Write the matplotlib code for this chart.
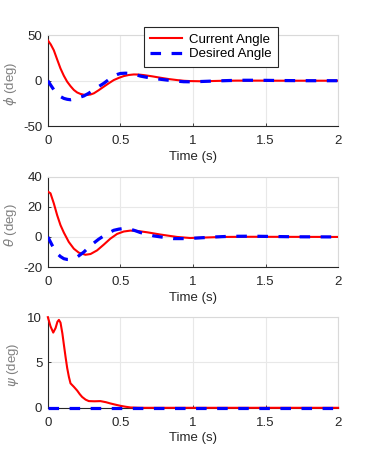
import matplotlib.pyplot as plt

plt.rcParams['font.family'] = ['Liberation Sans', 'DejaVu Sans']
plt.rcParams['mathtext.fontset'] = 'dejavusans'
plt.rcParams['axes.unicode_minus'] = False

# roll angle phi (deg)
t_phi = [0, 0.02, 0.041, 0.065, 0.087, 0.11, 0.133, 0.156, 0.179, 0.202, 0.225, 0.248, 0.27, 0.294,
         0.317, 0.35, 0.385, 0.42, 0.454, 0.49, 0.523, 0.557, 0.592, 0.626, 0.66, 0.72, 0.775, 0.83,
         0.89, 0.94, 0.98, 1.05, 1.12, 1.2, 1.3, 1.45, 1.6, 1.8, 2.0]
phi_cur = [44.5, 40, 33.6, 23, 13.5, 5.5, -1.1, -6, -10.2, -13, -14.6, -15.5, -15.7, -15.2,
           -13.9, -10.5, -6.6, -2.8, 0.7, 3.2, 5.1, 6.3, 6.9, 6.8, 6.2, 4.8, 3.3, 1.9,
           0.7, -0.1, -0.4, -0.6, -0.4, -0.1, 0.1, 0.1, 0, 0, 0]
t_phi_d = [0, 0.02, 0.041, 0.065, 0.087, 0.11, 0.133, 0.156, 0.18, 0.202, 0.225, 0.248, 0.28, 0.317,
           0.35, 0.385, 0.42, 0.454, 0.48, 0.5, 0.535, 0.569, 0.6, 0.638, 0.68, 0.729, 0.775, 0.821,
           0.88, 0.936, 0.98, 1.05, 1.15, 1.25, 1.35, 1.45, 1.6, 1.8, 2.0]
phi_des = [0, -5, -10, -14.5, -17.5, -19.5, -20.5, -21, -20.3, -19, -18, -16.8, -14, -10,
           -6.5, -2.9, 1.3, 5.1, 7, 8, 8.3, 8, 7, 5.1, 3.8, 2.6, 1.6, 0.7,
           -0.4, -1.1, -1.2, -0.9, -0.3, 0.2, 0.5, 0.5, 0.2, 0, 0]

# pitch angle theta (deg)
t_th = [0, 0.018, 0.041, 0.064, 0.087, 0.11, 0.144, 0.179, 0.213, 0.259, 0.294, 0.339, 0.385,
        0.431, 0.477, 0.523, 0.569, 0.615, 0.683, 0.775, 0.89, 0.98, 1.05, 1.2, 1.4, 2.0]
th_cur = [30, 28.9, 22.2, 14.4, 7.8, 2.9, -3.3, -7.8, -10.4, -11.8, -11.3, -8.9, -5.1,
          -1.1, 2, 3.6, 4.2, 4, 3.1, 1.6, 0, -0.7, -0.5, 0, 0.1, 0]
t_th_d = [0, 0.03, 0.064, 0.087, 0.11, 0.133, 0.156, 0.202, 0.248, 0.28, 0.317, 0.35, 0.385,
          0.42, 0.454, 0.49, 0.523, 0.569, 0.6, 0.638, 0.729, 0.8, 0.867, 0.96, 1.05, 1.15,
          1.25, 1.4, 1.55, 1.7, 2.0]
th_des = [0, -5.6, -11, -13, -14.4, -14.9, -14.9, -13.3, -10, -7, -4, -1.5, 0.7,
          2.7, 4.4, 5.2, 5.6, 5.1, 4.2, 2.9, 0.7, -0.3, -1.1, -1.1, -0.6, 0,
          0.4, 0.5, 0.3, 0.1, 0]

# yaw angle psi (deg)
t_psi = [0, 0.018, 0.037, 0.053, 0.066, 0.076, 0.087, 0.1, 0.11, 0.122, 0.133, 0.145, 0.156, 0.18,
         0.202, 0.22, 0.236, 0.26, 0.282, 0.32, 0.362, 0.4, 0.431, 0.47, 0.5, 0.535, 0.569, 0.62,
         0.66, 1.0, 2.0]
psi_cur = [10, 9, 8.3, 8.8, 9.5, 9.7, 9.4, 8.2, 7.0, 5.6, 4.4, 3.4, 2.7, 2.3,
           1.9, 1.5, 1.2, 0.9, 0.74, 0.72, 0.74, 0.62, 0.48, 0.33, 0.22, 0.12, 0.04, 0.01,
           0, 0, 0]
t_psi_d = [0, 2.0]
psi_des = [0, 0]

panels = [
    (t_phi, phi_cur, t_phi_d, phi_des, r'$\phi$ (deg)', (-50, 50), [-50, 0, 50], -0.1),
    (t_th, th_cur, t_th_d, th_des, r'$\theta$ (deg)', (-20, 40), [-20, 0, 20, 40], -0.1),
    (t_psi, psi_cur, t_psi_d, psi_des, r'$\psi$ (deg)', (0, 10), [0, 5, 10], -0.093),
]
bottoms = [0.733, 0.434, 0.136]

fig = plt.figure(figsize=(3.74, 4.72), dpi=100)
for i, (tc, yc, td, yd, lab, yl, yt, lx) in enumerate(panels):
    ax = fig.add_axes([0.128, bottoms[i], 0.776, 0.192])
    ax.plot(tc, yc, color='red', lw=1.5, label='Current Angle', zorder=3, clip_on=(i != 2))
    ax.plot(td, yd, color='blue', lw=2.3, ls=(0, (3.3, 3.3)), label='Desired Angle',
            zorder=4, clip_on=(i != 2))
    ax.set_xlim(0, 2)
    ax.set_ylim(*yl)
    ax.set_yticks(yt)
    ax.set_xticks([0, 0.5, 1, 1.5, 2])
    ax.set_xticklabels(['0', '0.5', '1', '1.5', '2'])
    ax.grid(True, color='#e8e8e8', lw=0.8)
    ax.set_axisbelow(True)
    ax.tick_params(labelsize=9.5, colors='#262626', direction='in', length=2.5, width=0.6)
    ax.tick_params(axis='x', pad=6.5)
    ax.tick_params(axis='y', pad=4)
    for s in ['top', 'right']:
        ax.spines[s].set_color('#d9d9d9')
    for s in ['left', 'bottom']:
        ax.spines[s].set_color('#262626')
    ax.set_ylabel(lab, fontsize=9.5, color='#808080')
    ax.yaxis.set_label_coords(lx, 0.47)
    ax.set_xlabel('Time (s)', fontsize=9.5, color='#262626', labelpad=2.5)
    if i == 0:
        leg = ax.legend(loc='upper left', bbox_to_anchor=(0.33, 1.09), fontsize=9.5,
                        fancybox=False, framealpha=1, edgecolor='#262626',
                        handlelength=2.4, handletextpad=0.5, borderpad=0.5,
                        labelspacing=0.15, borderaxespad=0)
        leg.get_frame().set_linewidth(0.8)

fig.savefig('out.png', dpi=100)
